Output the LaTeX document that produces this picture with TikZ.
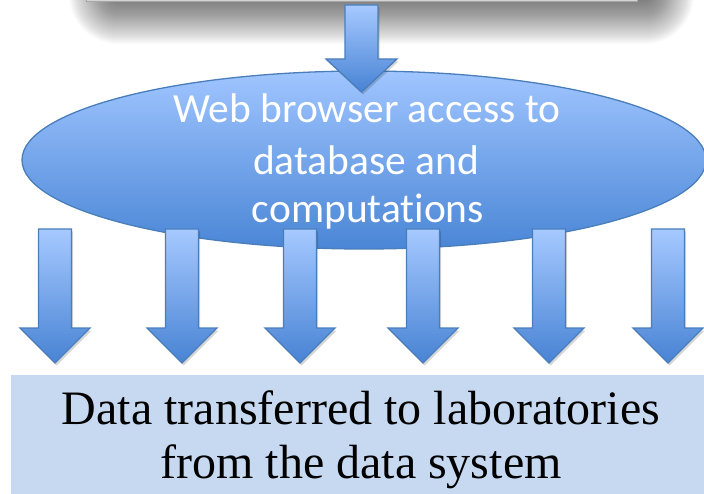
\documentclass[tikz,border=0pt]{standalone}
\usepackage{fontspec}
\setmainfont{Liberation Serif}
\newfontfamily\calibfont{Carlito}[Ligatures=NoCommon]
\usetikzlibrary{shapes.geometric}
\definecolor{arrowlight}{HTML}{A6C9FF}
\definecolor{arrowdark}{HTML}{4883D4}
\definecolor{blueline}{HTML}{4A7EBB}
\definecolor{elltop}{HTML}{A0C5FF}
\definecolor{ellbot}{HTML}{4A86D6}
\definecolor{boxfill}{HTML}{C6D9F1}
\definecolor{topbox}{HTML}{D4D4D4}
\tikzset{
  blockarrow/.style={draw=blueline, line width=1.3pt, top color=arrowlight, bottom color=arrowdark, line join=miter},
  arrowshadow/.style={fill=black, opacity=0.16},
  webtext/.style={font=\calibfont\fontsize{41.5}{50}\selectfont, text=white, anchor=base, inner sep=0pt},
  labtext/.style={font=\fontsize{48}{55}\selectfont, text=black, anchor=base, inner sep=0pt},
}
\newcommand\mkarrow[5]{% #1 centre x, #2 top, #3 head start, #4 tip, #5 head half width
  \path[arrowshadow] (#1-16.5+1.5,#2+2.5) -- (#1+16.5+1.5,#2+2.5) -- (#1+16.5+1.5,#3+2.5) -- (#1+#5+1.5,#3+2.5) -- (#1+1.5,#4+2.5) -- (#1-#5+1.5,#3+2.5) -- (#1-16.5+1.5,#3+2.5) -- cycle;
  \path[blockarrow] (#1-16.5,#2) -- (#1+16.5,#2) -- (#1+16.5,#3) -- (#1+#5,#3) -- (#1,#4) -- (#1-#5,#3) -- (#1-16.5,#3) -- cycle;
}
\begin{document}
\begin{tikzpicture}[x=1pt,y=-1pt]
\useasboundingbox (0,0) rectangle (704,494);
% blurred shadow of the top box
\foreach \r in {0,...,49}{
  \fill[black, opacity=0.016, rounded corners=\r pt] (118-\r,-80) rectangle (645+\r,-5+\r);
}
% top box (mostly cut off)
\node[fill=topbox, draw=gray!70, line width=0.6pt, inner sep=0pt, minimum width=551pt, minimum height=40pt, anchor=south west] (top) at (86,1.5) {};
% ellipse
\node[ellipse, draw=blueline, line width=1.3pt, top color=elltop, bottom color=ellbot, minimum width=684pt, minimum height=178pt, inner sep=0pt] (web) at (364,160) {};
% arrow into ellipse
\mkarrow{361.5}{5}{59}{92}{35.5}
% six arrows out of ellipse
\foreach \cx in {55,182,300,423,549,668}{
  \mkarrow{\cx}{229}{328}{363}{35}
}
% ellipse text
\node[webtext] (webA) at (367,123) {Web browser access to};
\node[webtext] (webB) at (366,175) {database and};
\node[webtext] (webC) at (368,223) {computations};
% bottom box
\node[fill=boxfill, inner sep=0pt, minimum width=693pt, minimum height=119pt, anchor=north west] (lab) at (11,375) {};
\node[labtext] (labA) at (361,424) {Data transferred to laboratories};
\node[labtext] (labB) at (361,478) {from the data system};
\end{tikzpicture}
\end{document}
